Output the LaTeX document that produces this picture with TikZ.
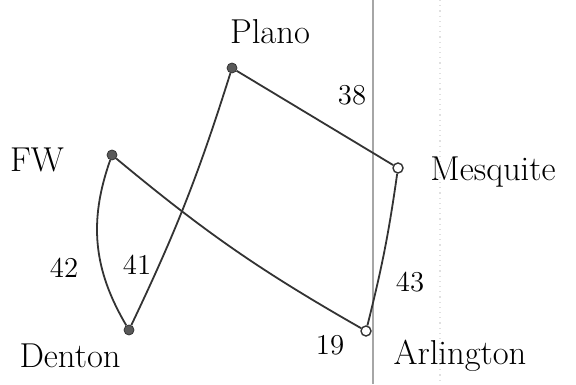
\documentclass[tikz,border=0pt]{standalone}
\usepackage{tikz}
\usetikzlibrary{positioning}

\begin{document}
\begin{tikzpicture}[
  x=0.5pt,y=-0.5pt,
  font=\LARGE,
  city/.style={circle,draw=black!80,fill=black!65,inner sep=0pt,minimum size=5pt},
  ring/.style={circle,draw=black!80,fill=white,line width=0.7pt,inner sep=0pt,minimum size=5pt},
  townlabel/.style={inner sep=1pt},
  weight/.style={inner sep=1pt,font=\Large},
  road/.style={draw=black!80,line width=0.9pt}]
\useasboundingbox (0,0) rectangle (576,384);

% margin lines of the paper
\draw[black!35,line width=0.6pt] (373,0) -- (373,384);
\draw[black!12,dotted,line width=0.6pt] (440,0) -- (440,384);

\node[city] (plano) at (232,68) {};
\node[city] (fw) at (112,155) {};
\node[ring] (mesq) at (398,168) {};
\node[city] (denton) at (129,330) {};
\node[ring] (arl) at (366,331) {};

\node[townlabel] (lplano) at (270,32) {Plano};
\node[townlabel] (lfw) at (37,160) {FW};
\node[townlabel] (lmesq) at (493,172) {Mesquite};
\node[townlabel] (ldenton) at (70,356) {Denton};
\node[townlabel] (larl) at (460,356) {Arlington};

\node[weight] (w38) at (352,95) {38};
\node[weight] (w42) at (64,268) {42};
\node[weight] (w41) at (137,265) {41};
\node[weight] (w43) at (410,282) {43};
\node[weight] (w19) at (330,345) {19};

\draw[road] (plano) to[bend left=4] (denton);
\draw[road] (plano) -- (mesq);
\draw[road] (fw) to[bend right=25] (denton);
\draw[road] (fw) to[bend right=5] (arl);
\draw[road] (mesq) to[bend left=3] (arl);
\end{tikzpicture}
\end{document}
